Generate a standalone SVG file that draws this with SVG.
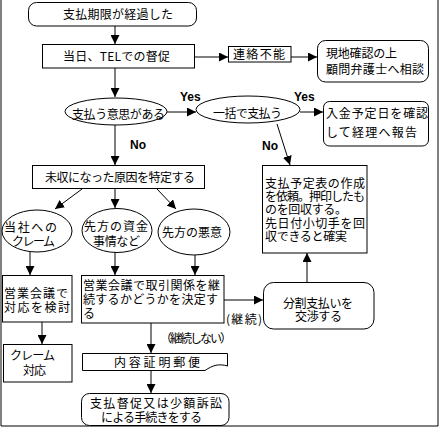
<svg xmlns="http://www.w3.org/2000/svg" width="440" height="428" viewBox="0 0 440 428">
<style>
.s{fill:#fff;stroke:#000;stroke-width:1}
.t{font-family:"Noto Sans CJK JP","Noto Sans CJK SC",sans-serif;font-size:12px;fill:#000}
.l{font-family:"Liberation Sans",Arial,sans-serif;font-size:12px;font-weight:bold;fill:#000}
.c{fill:none;stroke:#000;stroke-width:1}
</style>
<defs>
<marker id="ah" markerUnits="userSpaceOnUse" markerWidth="9" markerHeight="9" refX="9" refY="4.5" orient="auto">
<path d="M0,0 L9,4.5 L0,9 z" fill="#000"/>
</marker>
</defs>
<rect width="440" height="428" fill="#fff"/>
<path class="c" d="M1,0 V426 H438 V0"/>

<g id="connectors">
<line class="c" x1="115" y1="26" x2="115" y2="44" marker-end="url(#ah)"/>
<line class="c" x1="194" y1="57" x2="228" y2="57" marker-end="url(#ah)"/>
<line class="c" x1="291" y1="57" x2="317" y2="57" marker-end="url(#ah)"/>
<line class="c" x1="115" y1="68" x2="115" y2="97" marker-end="url(#ah)"/>
<line class="c" x1="167" y1="112" x2="196" y2="112" marker-end="url(#ah)"/>
<line class="c" x1="300" y1="112" x2="323" y2="112" marker-end="url(#ah)"/>
<line class="c" x1="115" y1="125" x2="115" y2="165" marker-end="url(#ah)"/>
<line class="c" x1="277" y1="124" x2="290" y2="165" marker-end="url(#ah)"/>
<line class="c" x1="82" y1="189" x2="55" y2="209" marker-end="url(#ah)"/>
<line class="c" x1="115" y1="189" x2="115" y2="208" marker-end="url(#ah)"/>
<line class="c" x1="157" y1="189" x2="176" y2="209" marker-end="url(#ah)"/>
<line class="c" x1="30" y1="252" x2="30" y2="275" marker-end="url(#ah)"/>
<line class="c" x1="115" y1="252" x2="115" y2="275" marker-end="url(#ah)"/>
<line class="c" x1="195" y1="255" x2="195" y2="275" marker-end="url(#ah)"/>
<line class="c" x1="224" y1="300" x2="263" y2="300" marker-end="url(#ah)"/>
<line class="c" x1="307" y1="282" x2="307" y2="253" marker-end="url(#ah)"/>
<line class="c" x1="42" y1="322" x2="42" y2="344" marker-end="url(#ah)"/>
<line class="c" x1="151" y1="323" x2="151" y2="353" marker-end="url(#ah)"/>
<line class="c" x1="151" y1="370" x2="151" y2="393" marker-end="url(#ah)"/>
<text class="l" x="180" y="101">Yes</text>
<text class="l" x="294" y="101">Yes</text>
<text class="l" x="130" y="149">No</text>
<text class="l" x="262" y="150">No</text>
<text class="t" x="226" y="324" font-size="11" textLength="36">(継続)</text>
<text class="t" x="160" y="343" font-size="12" textLength="72">（継続しない）</text>
</g>

<g id="n1">
<rect class="s" x="28.5" y="2.5" width="168" height="23.5" rx="8"/>
<text class="t" x="63" y="19" textLength="110">支払期限が経過した</text>
</g>
<g id="n2">
<rect class="s" x="42.5" y="44.5" width="152" height="23.5"/>
<text class="t" x="63" y="60.5" textLength="107">当日、TELでの督促</text>
</g>
<g id="n3">
<rect class="s" x="228.5" y="46.5" width="62.5" height="15.5"/>
<text class="t" x="233" y="58.5" textLength="52">連絡不能</text>
</g>
<g id="n4">
<rect class="s" x="317.5" y="40.5" width="111" height="41.5" rx="8"/>
<text class="t" x="326" y="57.5" textLength="71">現地確認の上</text>
<text class="t" x="326" y="73.5" textLength="98">顧問弁護士へ相談</text>
</g>
<g id="n5">
<ellipse class="s" cx="116" cy="111.5" rx="51" ry="13.5"/>
<text class="t" x="72" y="119" textLength="93">支払う意思がある</text>
</g>
<g id="n6">
<ellipse class="s" cx="248" cy="109.5" rx="52" ry="13.5"/>
<text class="t" x="213" y="117.5" textLength="69">一括で支払う</text>
</g>
<g id="n7">
<rect class="s" x="323.5" y="101.5" width="105" height="44.5" rx="6"/>
<text class="t" x="326" y="118" textLength="102">入金予定日を確認</text>
<text class="t" x="326" y="137" textLength="91">して経理へ報告</text>
</g>
<g id="n8">
<rect class="s" x="262.5" y="165.5" width="104.5" height="87.5"/>
<text class="t" x="265" y="188" textLength="100">支払予定表の作成</text>
<text class="t" x="265" y="201" textLength="100">を依頼。押印したも</text>
<text class="t" x="265" y="214" textLength="82">のを回収する。</text>
<text class="t" x="265" y="227.5" textLength="100">先日付小切手を回</text>
<text class="t" x="265" y="241" textLength="82">収できると確実</text>
</g>
<g id="n9">
<rect class="s" x="32.5" y="165.5" width="172" height="23"/>
<text class="t" x="45" y="182" textLength="150">未収になった原因を特定する</text>
</g>
<g id="n10">
<ellipse class="s" cx="37" cy="231" rx="35" ry="21"/>
<text class="t" x="4" y="232" textLength="53">当社への</text>
<text class="t" x="12" y="246" textLength="43">クレーム</text>
</g>
<g id="n11">
<ellipse class="s" cx="117" cy="230.5" rx="35" ry="22"/>
<text class="t" x="84" y="231" textLength="64">先方の資金</text>
<text class="t" x="93" y="246" textLength="47">事情など</text>
</g>
<g id="n12">
<ellipse class="s" cx="194" cy="232" rx="36" ry="23"/>
<text class="t" x="162" y="237" textLength="60">先方の悪意</text>
</g>
<g id="n13">
<rect class="s" x="2.5" y="275.5" width="69.5" height="46.5"/>
<text class="t" x="4" y="298" textLength="64">営業会議で</text>
<text class="t" x="4" y="312" textLength="66">対応を検討</text>
</g>
<g id="n14">
<rect class="s" x="3.5" y="344.5" width="68.5" height="37.5"/>
<text class="t" x="10" y="360" textLength="45">クレーム</text>
<text class="t" x="23" y="375" textLength="23">対応</text>
</g>
<g id="n15">
<rect class="s" x="81.5" y="275.5" width="142.5" height="47.5"/>
<text class="t" x="83" y="290" textLength="137">営業会議で取引関係を継</text>
<text class="t" x="83" y="304" textLength="135">続するかどうかを決定す</text>
<text class="t" x="83" y="318">る</text>
</g>
<g id="n16">
<rect class="s" x="263.5" y="282.5" width="110.5" height="46.5" rx="10"/>
<text class="t" x="283" y="308" textLength="70">分割支払いを</text>
<text class="t" x="295" y="321" textLength="47">交渉する</text>
</g>
<g id="n17">
<path class="s" d="M82.5,353.5 H227.5 V366 C219,363.5 213,365 205,370.5 H82.5 Z"/>
<text class="t" x="114" y="367" textLength="86">内容証明郵便</text>
</g>
<g id="n18">
<rect class="s" x="81.5" y="393.5" width="147.5" height="32" rx="8"/>
<text class="t" x="90" y="408" textLength="132">支払督促又は少額訴訟</text>
<text class="t" x="101" y="422" textLength="101">による手続きをする</text>
</g>
</svg>
